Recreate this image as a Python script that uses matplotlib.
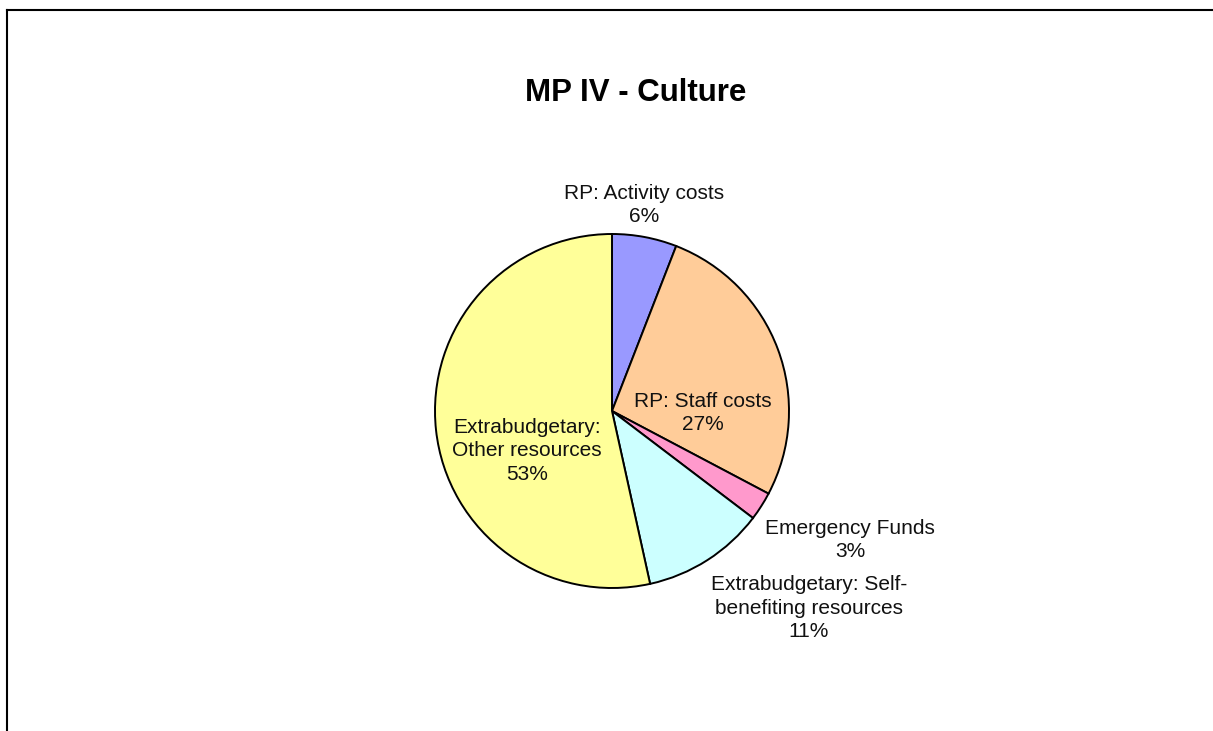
import matplotlib.pyplot as plt
from matplotlib.lines import Line2D

plt.rcParams['font.family'] = ['Liberation Sans', 'DejaVu Sans']

# slice data, clockwise from 12 o'clock
labels = ['RP: Activity costs', 'RP: Staff costs', 'Emergency Funds',
          'Extrabudgetary: Self-\nbenefiting resources',
          'Extrabudgetary:\nOther resources']
shares = [5.9, 26.8, 2.6, 11.2, 53.4]
colors = ['#9999FF', '#FFCC99', '#FF99CC', '#CCFFFF', '#FFFF99']

W, H = 1213, 731
fig = plt.figure(figsize=(W / 100, H / 100), dpi=100)
ax = fig.add_axes([0, 0, 1, 1])

# pie centre / radius in pixel units of the canvas
cx, cy, r = 612, H - 411, 177
ax.pie(shares, colors=colors, startangle=90, counterclock=False,
       center=(cx, cy), radius=r,
       wedgeprops=dict(edgecolor='black', linewidth=1.4))
ax.set_xlim(0, W)
ax.set_ylim(0, H)
ax.set_aspect('equal')
ax.axis('off')

# label positions (pixel, top-left origin)
label_pos = [(644, 205), (703, 413), (850, 540), (809, 608), (527, 451)]
total = sum(shares)
for lab, val, (x, y) in zip(labels, shares, label_pos):
    pct = round(val / total * 100)
    ax.text(x, H - y, f'{lab}\n{pct}%', ha='center', va='center',
            multialignment='center', fontsize=15, color='#111111',
            linespacing=1.3)

ax.text(636, H - 93, 'MP IV - Culture', ha='center', va='center',
        fontsize=22.5, fontweight='bold')

# chart frame (top and left edge visible)
fig.add_artist(Line2D([7 / W, 1], [1 - 10 / H, 1 - 10 / H], color='black', lw=1.5))
fig.add_artist(Line2D([7 / W, 7 / W], [0, 1 - 10 / H], color='black', lw=1.5))

plt.savefig('out.png', dpi=100)
